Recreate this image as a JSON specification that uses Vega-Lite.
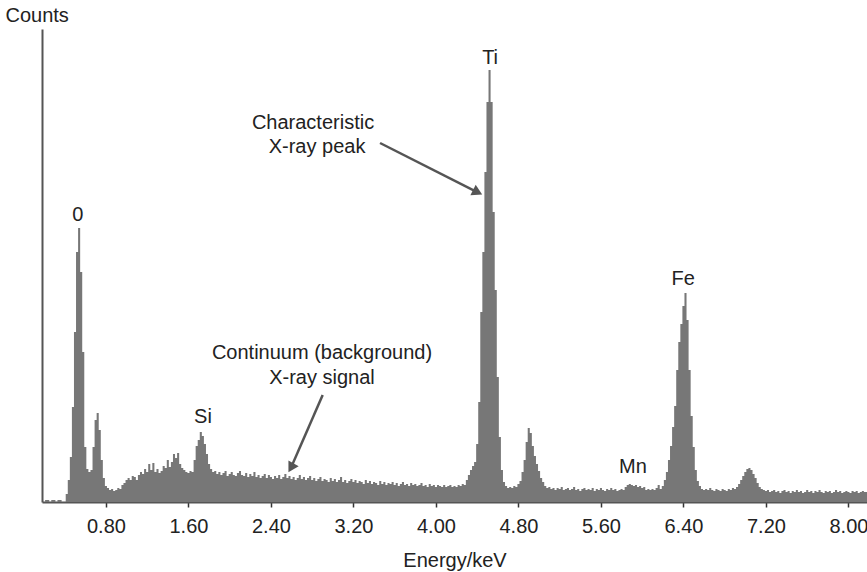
{
  "$schema": "https://vega.github.io/schema/vega-lite/v6.json",
  "width": 825,
  "height": 473,
  "autosize": {"type": "none"},
  "padding": {"left": 42, "top": 29, "right": 0, "bottom": 70},
  "background": "white",
  "config": {
    "view": {"stroke": null},
    "font": "Liberation Sans",
    "axis": {"grid": false, "labelFont": "Liberation Sans", "titleFont": "Liberation Sans", "titleFontWeight": "normal"}
  },
  "datasets": {
    "spectrum": [
      {"e":0.18,"c":0},{"e":0.20,"c":0},{"e":0.22,"c":2},{"e":0.24,"c":2},{"e":0.26,"c":0},{"e":0.28,"c":2},{"e":0.30,"c":2},{"e":0.32,"c":0},{"e":0.34,"c":2},{"e":0.36,"c":2},{"e":0.38,"c":0},{"e":0.40,"c":0},
      {"e":0.42,"c":8},{"e":0.44,"c":22},{"e":0.46,"c":45},{"e":0.48,"c":95},{"e":0.50,"c":170},{"e":0.52,"c":250},{"e":0.54,"c":274},{"e":0.56,"c":230},{"e":0.58,"c":150},{"e":0.60,"c":55},
      {"e":0.62,"c":33},{"e":0.64,"c":30},{"e":0.66,"c":32},{"e":0.68,"c":55},{"e":0.70,"c":82},{"e":0.72,"c":89},{"e":0.74,"c":72},{"e":0.76,"c":42},{"e":0.78,"c":24},{"e":0.80,"c":16},
      {"e":0.82,"c":14},{"e":0.84,"c":12},{"e":0.86,"c":13},{"e":0.88,"c":11},{"e":0.90,"c":12},{"e":0.92,"c":14},{"e":0.94,"c":13},{"e":0.96,"c":17},{"e":0.98,"c":19},{"e":1.00,"c":22},
      {"e":1.02,"c":24},{"e":1.04,"c":22},{"e":1.06,"c":26},{"e":1.08,"c":25},{"e":1.10,"c":22},{"e":1.12,"c":27},{"e":1.14,"c":30},{"e":1.16,"c":28},{"e":1.18,"c":33},{"e":1.20,"c":30},
      {"e":1.22,"c":38},{"e":1.24,"c":32},{"e":1.26,"c":39},{"e":1.28,"c":30},{"e":1.30,"c":33},{"e":1.32,"c":29},{"e":1.34,"c":31},{"e":1.36,"c":36},{"e":1.38,"c":34},{"e":1.40,"c":42},
      {"e":1.42,"c":35},{"e":1.44,"c":40},{"e":1.46,"c":48},{"e":1.48,"c":44},{"e":1.50,"c":49},{"e":1.52,"c":38},{"e":1.54,"c":34},{"e":1.56,"c":32},{"e":1.58,"c":30},{"e":1.60,"c":29},
      {"e":1.62,"c":31},{"e":1.64,"c":30},{"e":1.66,"c":42},{"e":1.68,"c":56},{"e":1.70,"c":62},{"e":1.72,"c":70},{"e":1.74,"c":66},{"e":1.76,"c":58},{"e":1.78,"c":48},{"e":1.80,"c":38},
      {"e":1.82,"c":33},{"e":1.84,"c":30},{"e":1.86,"c":31},{"e":1.88,"c":28},{"e":1.90,"c":30},{"e":1.92,"c":27},{"e":1.94,"c":29},{"e":1.96,"c":31},{"e":1.98,"c":26},{"e":2.00,"c":28},
      {"e":2.02,"c":30},{"e":2.04,"c":27},{"e":2.06,"c":26},{"e":2.08,"c":29},{"e":2.10,"c":31},{"e":2.12,"c":27},{"e":2.14,"c":26},{"e":2.16,"c":29},{"e":2.18,"c":25},{"e":2.20,"c":28},
      {"e":2.22,"c":26},{"e":2.24,"c":30},{"e":2.26,"c":25},{"e":2.28,"c":27},{"e":2.30,"c":24},{"e":2.32,"c":26},{"e":2.34,"c":28},{"e":2.36,"c":24},{"e":2.38,"c":27},{"e":2.40,"c":25},
      {"e":2.42,"c":23},{"e":2.44,"c":26},{"e":2.46,"c":24},{"e":2.48,"c":27},{"e":2.50,"c":23},{"e":2.52,"c":25},{"e":2.54,"c":28},{"e":2.56,"c":24},{"e":2.58,"c":26},{"e":2.60,"c":23},
      {"e":2.62,"c":25},{"e":2.64,"c":22},{"e":2.66,"c":24},{"e":2.68,"c":27},{"e":2.70,"c":23},{"e":2.72,"c":25},{"e":2.74,"c":22},{"e":2.76,"c":24},{"e":2.78,"c":26},{"e":2.80,"c":22},
      {"e":2.82,"c":24},{"e":2.84,"c":21},{"e":2.86,"c":23},{"e":2.88,"c":25},{"e":2.90,"c":21},{"e":2.92,"c":23},{"e":2.94,"c":22},{"e":2.96,"c":20},{"e":2.98,"c":24},{"e":3.00,"c":21},
      {"e":3.02,"c":23},{"e":3.04,"c":20},{"e":3.06,"c":22},{"e":3.08,"c":25},{"e":3.10,"c":20},{"e":3.12,"c":22},{"e":3.14,"c":19},{"e":3.16,"c":21},{"e":3.18,"c":23},{"e":3.20,"c":20},
      {"e":3.22,"c":22},{"e":3.24,"c":19},{"e":3.26,"c":21},{"e":3.28,"c":20},{"e":3.30,"c":18},{"e":3.32,"c":22},{"e":3.34,"c":19},{"e":3.36,"c":21},{"e":3.38,"c":18},{"e":3.40,"c":20},
      {"e":3.42,"c":19},{"e":3.44,"c":17},{"e":3.46,"c":21},{"e":3.48,"c":18},{"e":3.50,"c":20},{"e":3.52,"c":17},{"e":3.54,"c":19},{"e":3.56,"c":18},{"e":3.58,"c":20},{"e":3.60,"c":17},
      {"e":3.62,"c":19},{"e":3.64,"c":16},{"e":3.66,"c":18},{"e":3.68,"c":20},{"e":3.70,"c":17},{"e":3.72,"c":18},{"e":3.74,"c":16},{"e":3.76,"c":19},{"e":3.78,"c":17},{"e":3.80,"c":18},
      {"e":3.82,"c":16},{"e":3.84,"c":17},{"e":3.86,"c":19},{"e":3.88,"c":16},{"e":3.90,"c":17},{"e":3.92,"c":15},{"e":3.94,"c":18},{"e":3.96,"c":16},{"e":3.98,"c":17},{"e":4.00,"c":15},
      {"e":4.02,"c":17},{"e":4.04,"c":16},{"e":4.06,"c":15},{"e":4.08,"c":17},{"e":4.10,"c":15},{"e":4.12,"c":16},{"e":4.14,"c":17},{"e":4.16,"c":15},{"e":4.18,"c":16},{"e":4.20,"c":15},
      {"e":4.22,"c":17},{"e":4.24,"c":16},{"e":4.26,"c":18},{"e":4.28,"c":17},{"e":4.30,"c":22},{"e":4.32,"c":27},{"e":4.34,"c":32},{"e":4.36,"c":36},{"e":4.38,"c":40},{"e":4.40,"c":58},
      {"e":4.42,"c":100},{"e":4.44,"c":190},{"e":4.46,"c":250},{"e":4.48,"c":330},{"e":4.50,"c":400},{"e":4.52,"c":432},{"e":4.54,"c":400},{"e":4.56,"c":290},{"e":4.58,"c":212},{"e":4.60,"c":125},
      {"e":4.62,"c":65},{"e":4.64,"c":32},{"e":4.66,"c":20},{"e":4.68,"c":16},{"e":4.70,"c":14},{"e":4.72,"c":15},{"e":4.74,"c":14},{"e":4.76,"c":16},{"e":4.78,"c":15},{"e":4.80,"c":18},
      {"e":4.82,"c":21},{"e":4.84,"c":30},{"e":4.86,"c":42},{"e":4.88,"c":60},{"e":4.90,"c":74},{"e":4.92,"c":69},{"e":4.94,"c":56},{"e":4.96,"c":46},{"e":4.98,"c":38},{"e":5.00,"c":31},
      {"e":5.02,"c":24},{"e":5.04,"c":20},{"e":5.06,"c":16},{"e":5.08,"c":14},{"e":5.10,"c":15},{"e":5.12,"c":13},{"e":5.14,"c":14},{"e":5.16,"c":12},{"e":5.18,"c":14},{"e":5.20,"c":13},
      {"e":5.22,"c":15},{"e":5.24,"c":12},{"e":5.26,"c":13},{"e":5.28,"c":14},{"e":5.30,"c":12},{"e":5.32,"c":13},{"e":5.34,"c":15},{"e":5.36,"c":12},{"e":5.38,"c":13},{"e":5.40,"c":11},
      {"e":5.42,"c":13},{"e":5.44,"c":14},{"e":5.46,"c":12},{"e":5.48,"c":13},{"e":5.50,"c":12},{"e":5.52,"c":14},{"e":5.54,"c":11},{"e":5.56,"c":13},{"e":5.58,"c":12},{"e":5.60,"c":14},
      {"e":5.62,"c":12},{"e":5.64,"c":11},{"e":5.66,"c":13},{"e":5.68,"c":12},{"e":5.70,"c":14},{"e":5.72,"c":12},{"e":5.74,"c":13},{"e":5.76,"c":11},{"e":5.78,"c":12},{"e":5.80,"c":13},
      {"e":5.82,"c":12},{"e":5.84,"c":15},{"e":5.86,"c":17},{"e":5.88,"c":18},{"e":5.90,"c":17},{"e":5.92,"c":16},{"e":5.94,"c":17},{"e":5.96,"c":15},{"e":5.98,"c":16},{"e":6.00,"c":14},
      {"e":6.02,"c":15},{"e":6.04,"c":12},{"e":6.06,"c":13},{"e":6.08,"c":12},{"e":6.10,"c":13},{"e":6.12,"c":12},{"e":6.14,"c":14},{"e":6.16,"c":17},{"e":6.18,"c":13},{"e":6.20,"c":16},
      {"e":6.22,"c":22},{"e":6.24,"c":30},{"e":6.26,"c":42},{"e":6.28,"c":56},{"e":6.30,"c":75},{"e":6.32,"c":96},{"e":6.34,"c":132},{"e":6.36,"c":160},{"e":6.38,"c":178},{"e":6.40,"c":196},
      {"e":6.42,"c":209},{"e":6.44,"c":182},{"e":6.46,"c":132},{"e":6.48,"c":86},{"e":6.50,"c":55},{"e":6.52,"c":32},{"e":6.54,"c":21},{"e":6.56,"c":16},{"e":6.58,"c":13},{"e":6.60,"c":12},
      {"e":6.62,"c":13},{"e":6.64,"c":12},{"e":6.66,"c":14},{"e":6.68,"c":12},{"e":6.70,"c":11},{"e":6.72,"c":13},{"e":6.74,"c":12},{"e":6.76,"c":11},{"e":6.78,"c":13},{"e":6.80,"c":12},
      {"e":6.82,"c":11},{"e":6.84,"c":13},{"e":6.86,"c":12},{"e":6.88,"c":14},{"e":6.90,"c":13},{"e":6.92,"c":15},{"e":6.94,"c":18},{"e":6.96,"c":22},{"e":6.98,"c":26},{"e":7.00,"c":30},
      {"e":7.02,"c":33},{"e":7.04,"c":34},{"e":7.06,"c":32},{"e":7.08,"c":28},{"e":7.10,"c":24},{"e":7.12,"c":19},{"e":7.14,"c":15},{"e":7.16,"c":13},{"e":7.18,"c":12},{"e":7.20,"c":11},
      {"e":7.22,"c":12},{"e":7.24,"c":10},{"e":7.26,"c":11},{"e":7.28,"c":12},{"e":7.30,"c":10},{"e":7.32,"c":11},{"e":7.34,"c":9},{"e":7.36,"c":11},{"e":7.38,"c":12},{"e":7.40,"c":10},
      {"e":7.42,"c":11},{"e":7.44,"c":9},{"e":7.46,"c":11},{"e":7.48,"c":10},{"e":7.50,"c":12},{"e":7.52,"c":10},{"e":7.54,"c":11},{"e":7.56,"c":9},{"e":7.58,"c":10},{"e":7.60,"c":12},
      {"e":7.62,"c":10},{"e":7.64,"c":11},{"e":7.66,"c":9},{"e":7.68,"c":11},{"e":7.70,"c":10},{"e":7.72,"c":12},{"e":7.74,"c":10},{"e":7.76,"c":9},{"e":7.78,"c":11},{"e":7.80,"c":10},
      {"e":7.82,"c":11},{"e":7.84,"c":9},{"e":7.86,"c":10},{"e":7.88,"c":12},{"e":7.90,"c":10},{"e":7.92,"c":11},{"e":7.94,"c":9},{"e":7.96,"c":10},{"e":7.98,"c":11},{"e":8.00,"c":10},
      {"e":8.02,"c":9},{"e":8.04,"c":11},{"e":8.06,"c":10},{"e":8.08,"c":11},{"e":8.10,"c":9},{"e":8.12,"c":10},{"e":8.14,"c":11},{"e":8.16,"c":10},{"e":8.18,"c":10}
    ],
    "labels": [
      {"e":0.528,"c":287,"t":"0"},
      {"e":1.741,"c":85,"t":"Si"},
      {"e":4.525,"c":444,"t":"Ti"},
      {"e":6.397,"c":223,"t":"Fe"},
      {"e":5.911,"c":35,"t":"Mn"},
      {"e":2.808,"c":379,"t":"Characteristic"},
      {"e":2.847,"c":355,"t":"X-ray peak"},
      {"e":2.895,"c":149,"t":"Continuum (background)"},
      {"e":2.895,"c":124,"t":"X-ray signal"}
    ],
    "arrows": [
      {"id":"peak","e":3.458,"c":359,"e2":4.404,"c2":309.7},
      {"id":"cont","e":2.9017,"c":107,"e2":2.5943,"c2":34.2}
    ]
  },
  "layer": [
    {
      "data": {"name": "spectrum"},
      "mark": {"type": "area", "interpolate": "step", "color": "#777777"},
      "encoding": {
        "x": {
          "field": "e", "type": "quantitative",
          "scale": {"domain": [0.18, 8.18], "nice": false, "zero": false},
          "axis": {
            "values": [0.8, 1.6, 2.4, 3.2, 4.0, 4.8, 5.6, 6.4, 7.2, 8.0],
            "format": ".2f",
            "title": "Energy/keV",
            "titleFontSize": 20,
            "titleColor": "#222",
            "titlePadding": 14,
            "labelFontSize": 20,
            "labelColor": "#222",
            "labelPadding": 9,
            "labelOverlap": false,
            "labelFlush": false,
            "labelBound": false,
            "domainColor": "#555",
            "domainWidth": 2,
            "tickColor": "#333",
            "tickSize": 5,
            "tickWidth": 1.5
          }
        },
        "y": {
          "field": "c", "type": "quantitative",
          "scale": {"domain": [0, 473], "nice": false},
          "axis": {
            "title": "Counts",
            "titleAngle": 0,
            "titleAlign": "left",
            "titleBaseline": "middle",
            "titleX": -37,
            "titleY": -14,
            "titleFontSize": 20,
            "titleColor": "#222",
            "labels": false,
            "ticks": false,
            "domainColor": "#555",
            "domainWidth": 2
          }
        }
      }
    },
    {
      "data": {"name": "labels"},
      "mark": {"type": "text", "fontSize": 20, "color": "#222", "align": "center", "baseline": "middle"},
      "encoding": {
        "x": {"field": "e", "type": "quantitative"},
        "y": {"field": "c", "type": "quantitative"},
        "text": {"field": "t"}
      }
    },
    {
      "data": {"name": "arrows"},
      "mark": {"type": "rule", "color": "#555", "strokeWidth": 2.5},
      "encoding": {
        "x": {"field": "e", "type": "quantitative"},
        "y": {"field": "c", "type": "quantitative"},
        "x2": {"field": "e2"},
        "y2": {"field": "c2"}
      }
    },
    {
      "data": {"name": "arrows"},
      "transform": [{"filter": "datum.id == 'peak'"}],
      "mark": {"type": "point", "shape": "triangle-right", "filled": true, "color": "#555", "opacity": 1, "size": 140, "angle": 26.8},
      "encoding": {
        "x": {"field": "e2", "type": "quantitative"},
        "y": {"field": "c2", "type": "quantitative"}
      }
    },
    {
      "data": {"name": "arrows"},
      "transform": [{"filter": "datum.id == 'cont'"}],
      "mark": {"type": "point", "shape": "triangle-right", "filled": true, "color": "#555", "opacity": 1, "size": 140, "angle": 120},
      "encoding": {
        "x": {"field": "e2", "type": "quantitative"},
        "y": {"field": "c2", "type": "quantitative"}
      }
    }
  ]
}
